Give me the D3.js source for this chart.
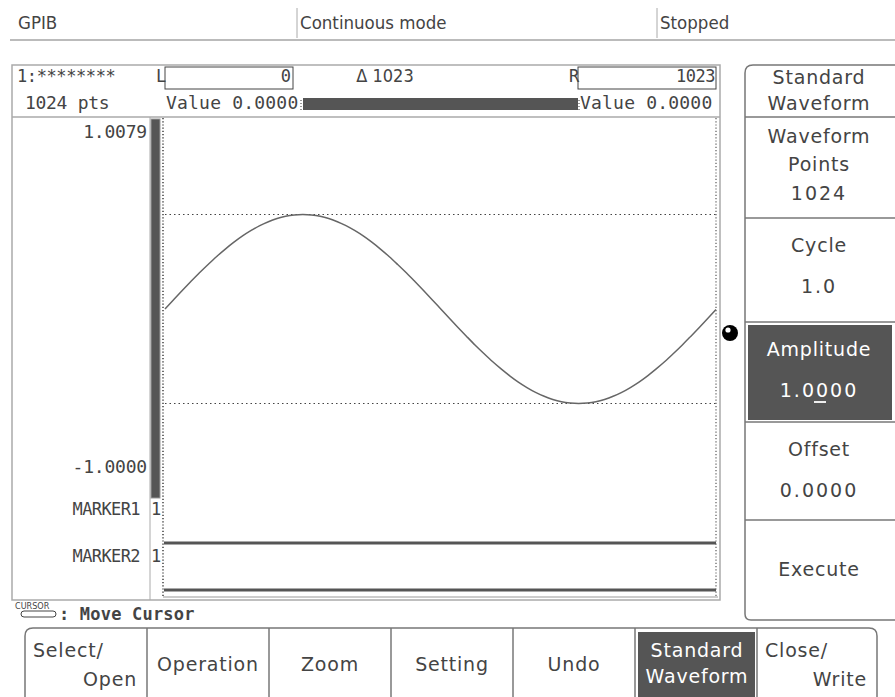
<!DOCTYPE html>
<html><head><meta charset="utf-8">
<script src="https://cdn.jsdelivr.net/npm/d3@7"></script>
<style>
html,body{margin:0;padding:0;background:#fff;}
svg{display:block;}
</style></head>
<body>
<svg id="c" width="895" height="697"></svg>
<script>
// ---------- data ----------
const statusItems = ["GPIB", "Continuous mode", "Stopped"];
const waveName = "1:********";
const waveInfo = "1024 pts";
const cursorL = 0, cursorR = 1023, cursorDelta = "\u0394 1023";
const cursorValues = ["Value 0.0000", "Value 0.0000"];
const yTickLabels = ["1.0079", "-1.0000"];
const markerNames = ["MARKER1", "MARKER2"];
const markerLevels = [1, 1];
const pointCount = 1024;
// waveform samples (every 16 points, 0..1023)
const sampleIndex = [0,16,32,48,64,80,96,112,128,144,160,176,192,208,224,240,256,272,288,304,320,336,352,368,384,400,416,432,448,464,480,496,512,528,544,560,576,592,608,624,640,656,672,688,704,720,736,752,768,784,800,816,832,848,864,880,896,912,928,944,960,976,992,1008,1023];
const sampleValue = [0,0.098,0.195,0.290,0.383,0.471,0.556,0.634,0.707,0.773,0.831,0.882,0.924,0.957,0.981,0.995,1.000,0.995,0.981,0.957,0.924,0.882,0.831,0.773,0.707,0.634,0.556,0.471,0.383,0.290,0.195,0.098,0,-0.098,-0.195,-0.290,-0.383,-0.471,-0.556,-0.634,-0.707,-0.773,-0.831,-0.882,-0.924,-0.957,-0.981,-0.995,-1.000,-0.995,-0.981,-0.957,-0.924,-0.882,-0.831,-0.773,-0.707,-0.634,-0.556,-0.471,-0.383,-0.290,-0.195,-0.098,-0.006];
const refLevels = [1, -1];
const sideMenu = [
  {lines:["Standard","Waveform"], title:true},
  {lines:["Waveform","Points","1024"]},
  {lines:["Cycle","1.0"]},
  {lines:["Amplitude","1.0000"], active:true},
  {lines:["Offset","0.0000"]},
  {lines:["Execute"]}
];
const bottomButtons = [
  {lines:["Select/","Open"], split:true},
  {lines:["Operation"]},
  {lines:["Zoom"]},
  {lines:["Setting"]},
  {lines:["Undo"]},
  {lines:["Standard","Waveform"], active:true},
  {lines:["Close/","Write"], split:true}
];
const cursorHint = ": Move Cursor";

// ---------- drawing ----------
const svg = d3.select("#c");
svg.append("rect").attr("width",895).attr("height",697).attr("fill","#fff");
const TXT = "#444", DARK = "#555";
const mono = "'DejaVu Sans Mono', monospace";
const cond = "'DejaVu Sans Condensed', 'DejaVu Sans', sans-serif";
const sans = "'DejaVu Sans', 'Noto Sans', sans-serif";

// status bar
const statusX = [18, 300, 660];
statusItems.forEach((s,i)=>{
  svg.append("text").attr("x",statusX[i]).attr("y",29).text(s)
    .attr("font-family",cond).attr("font-size",18.5).attr("fill",TXT);
});
[297,657].forEach(x=>svg.append("line").attr("x1",x).attr("x2",x).attr("y1",8).attr("y2",38).attr("stroke","#aaa"));
svg.append("line").attr("x1",10).attr("x2",895).attr("y1",40).attr("y2",40).attr("stroke","#bbb").attr("stroke-width",2);

// main frame
const F = {l:12, t:65, r:720, b:600};
svg.append("rect").attr("x",F.l).attr("y",F.t).attr("width",F.r-F.l).attr("height",F.b-F.t)
  .attr("fill","none").attr("stroke","#aaa").attr("stroke-width",1.5);
svg.append("line").attr("x1",F.l).attr("x2",F.r).attr("y1",117).attr("y2",117).attr("stroke","#aaa").attr("stroke-width",1.5);
svg.append("line").attr("x1",150).attr("x2",150).attr("y1",117).attr("y2",F.b).attr("stroke","#aaa");

function mtext(x,y,t,anchor,size,ls){
  return svg.append("text").attr("x",x).attr("y",y).text(t).attr("text-anchor",anchor||"start")
    .attr("font-family",mono).attr("font-size",size||15).attr("letter-spacing",ls==null?0.2:ls).attr("fill",TXT);
}
// header
mtext(17,82,waveName,"start",17,-0.4);
mtext(25,109,waveInfo,"start",18,-0.3);
mtext(156,82,"L","start",17,0);
svg.append("rect").attr("x",165).attr("y",67).attr("width",128).attr("height",22).attr("fill","none").attr("stroke",TXT);
mtext(291,82,String(cursorL),"end",17,0);
svg.append("text").attr("x",385).attr("y",82).attr("text-anchor","middle").text(cursorDelta)
  .attr("font-family",cond).attr("font-size",18).attr("fill",TXT);
mtext(569,82,"R","start",17,0);
svg.append("rect").attr("x",578).attr("y",67).attr("width",138).attr("height",22).attr("fill","none").attr("stroke",TXT);
mtext(715,82,String(cursorR),"end",17,-0.5);
mtext(166,109,cursorValues[0],"start",18,0.2);
mtext(580,109,cursorValues[1],"start",18,0.2);

// scales
const x = d3.scaleLinear().domain([0,pointCount-1]).range([165,716]);
const y = d3.scaleLinear().domain([-2,2]).range([498,120]);
// cursor span bar
svg.append("rect").attr("x",x(cursorL)+138).attr("y",98).attr("width",x(cursorR)-x(cursorL)-138-138).attr("height",12).attr("fill",DARK);
[x(cursorL)+136, x(cursorR)-137].forEach(xx=>svg.append("line").attr("x1",xx).attr("x2",xx).attr("y1",100).attr("y2",112)
  .attr("stroke","#333").attr("stroke-dasharray","1,2"));

// left value labels
mtext(147,138,yTickLabels[0],"end",18,-0.2);
mtext(147,473,yTickLabels[1],"end",18,-0.2);
svg.append("rect").attr("x",151).attr("y",119).attr("width",9).attr("height",379).attr("fill",DARK)
  .attr("stroke","#999").attr("stroke-width",1);

// dotted borders
[163, 716].forEach(xx=>svg.append("line").attr("x1",xx).attr("x2",xx).attr("y1",118).attr("y2",598)
  .attr("stroke",xx===163?"#222":"#666").attr("stroke-dasharray","1.2,2").attr("stroke-width",1.3));
svg.append("line").attr("x1",163).attr("x2",718).attr("y1",597).attr("y2",597).attr("stroke","#ccc").attr("stroke-width",2);

// reference dotted lines
refLevels.forEach(v=>svg.append("line").attr("x1",165).attr("x2",716).attr("y1",y(v)).attr("y2",y(v))
  .attr("stroke","#444").attr("stroke-dasharray","1.5,3").attr("stroke-width",1.2));

// waveform
const pts = sampleIndex.map((d,i)=>[d,sampleValue[i]]);
svg.append("path").datum(pts).attr("fill","none").attr("stroke","#666").attr("stroke-width",1.5)
  .attr("d",d3.line().x(d=>x(d[0])).y(d=>y(d[1])).curve(d3.curveMonotoneX));

// markers
const markerRowTop = [498, 545];
const markerRowH = 47;
markerNames.forEach((m,i)=>{
  mtext(140,markerRowTop[i]+17,m,"end",17,-0.6);
  mtext(151,markerRowTop[i]+17,String(markerLevels[i]),"start",17,0);
  const ly = markerRowTop[i] + markerRowH - 2;
  svg.append("line").attr("x1",164).attr("x2",716).attr("y1",ly).attr("y2",ly)
    .attr("stroke",DARK).attr("stroke-width",3);
});

// ball
svg.append("circle").attr("cx",730).attr("cy",333).attr("r",8).attr("fill","#000");
svg.append("circle").attr("cx",728).attr("cy",330).attr("r",2.6).attr("fill","#fff");

// cursor hint
svg.append("text").attr("x",15).attr("y",609).text("CURSOR").attr("font-family",cond).attr("font-size",9).attr("fill",TXT);
svg.append("rect").attr("x",21).attr("y",611).attr("width",35).attr("height",6).attr("rx",3).attr("fill","none").attr("stroke",TXT);
mtext(59,620,cursorHint,"start",17,0.2).attr("font-weight","bold");

// side menu
const sideY = [65,117,218,322,422,520,620];
const S = {l:745, r:895};
svg.append("path").attr("d",`M${S.r},${sideY[0]} H${S.l+8} Q${S.l},${sideY[0]} ${S.l},${sideY[0]+8} V${620-6} Q${S.l},620 ${S.l+6},620 H${S.r}`)
  .attr("fill","none").attr("stroke","#777").attr("stroke-width",1.5);
sideMenu.forEach((m,i)=>{
  const t0 = sideY[i], t1 = sideY[i+1];
  if (i>0 && i<6) svg.append("line").attr("x1",S.l).attr("x2",S.r).attr("y1",t0).attr("y2",t0).attr("stroke","#777").attr("stroke-width",1.5);
  if (m.active) svg.append("rect").attr("x",S.l+3).attr("y",t0+3).attr("width",S.r-S.l-6).attr("height",t1-t0-5).attr("fill",DARK);
  const cx = 819;
  let ys;
  if (m.title) ys=[84,110];
  else if (m.lines.length===3) ys=[t0+26,t0+54,t0+83];
  else if (m.lines.length===2) ys=[t0+34,t0+75];
  else ys=[t0+56];
  m.lines.forEach((l,j)=>{
    const isNum = /^[0-9.]+$/.test(l);
    svg.append("text").attr("x",cx).attr("y",ys[j]).attr("text-anchor","middle").text(l)
      .attr("font-family",sans).attr("font-size",19).attr("letter-spacing",isNum?2:0.8)
      .attr("fill",m.active?"#fff":TXT);
  });
  if (m.active){
    svg.append("line").attr("x1",814).attr("x2",826).attr("y1",ys[1]+5).attr("y2",ys[1]+5).attr("stroke","#fff").attr("stroke-width",1.8);
  }
});

// bottom buttons
const bX = [25,147,269,391,513,635,757,877];
const bT = 628;
svg.append("path").attr("d",`M${bX[0]},697 V${bT+8} Q${bX[0]},${bT} ${bX[0]+8},${bT} H${bX[7]-8} Q${bX[7]},${bT} ${bX[7]},${bT+8} V697`)
  .attr("fill","none").attr("stroke","#777").attr("stroke-width",1.5);
const bfont = (sel,fill)=>sel.attr("font-family",sans).attr("font-size",19).attr("letter-spacing",0.8).attr("fill",fill||TXT);
bottomButtons.forEach((b,i)=>{
  const l = bX[i], r = bX[i+1];
  if (i>0) svg.append("line").attr("x1",l).attr("x2",l).attr("y1",bT).attr("y2",697).attr("stroke","#777").attr("stroke-width",1.5);
  if (b.active) svg.append("rect").attr("x",l+3).attr("y",bT+4).attr("width",r-l-5).attr("height",697-bT-4).attr("fill",DARK);
  const cx=(l+r)/2;
  if (b.split){
    bfont(svg.append("text").attr("x",l+8).attr("y",657).text(b.lines[0]));
    bfont(svg.append("text").attr("x",r-10).attr("y",686).attr("text-anchor","end").text(b.lines[1]));
  } else if (b.lines.length===2){
    bfont(svg.append("text").attr("x",cx+1).attr("y",657).attr("text-anchor","middle").text(b.lines[0]),"#fff");
    bfont(svg.append("text").attr("x",cx+1).attr("y",683).attr("text-anchor","middle").text(b.lines[1]),"#fff");
  } else {
    bfont(svg.append("text").attr("x",cx).attr("y",671).attr("text-anchor","middle").text(b.lines[0]));
  }
});
</script>
</body></html>
